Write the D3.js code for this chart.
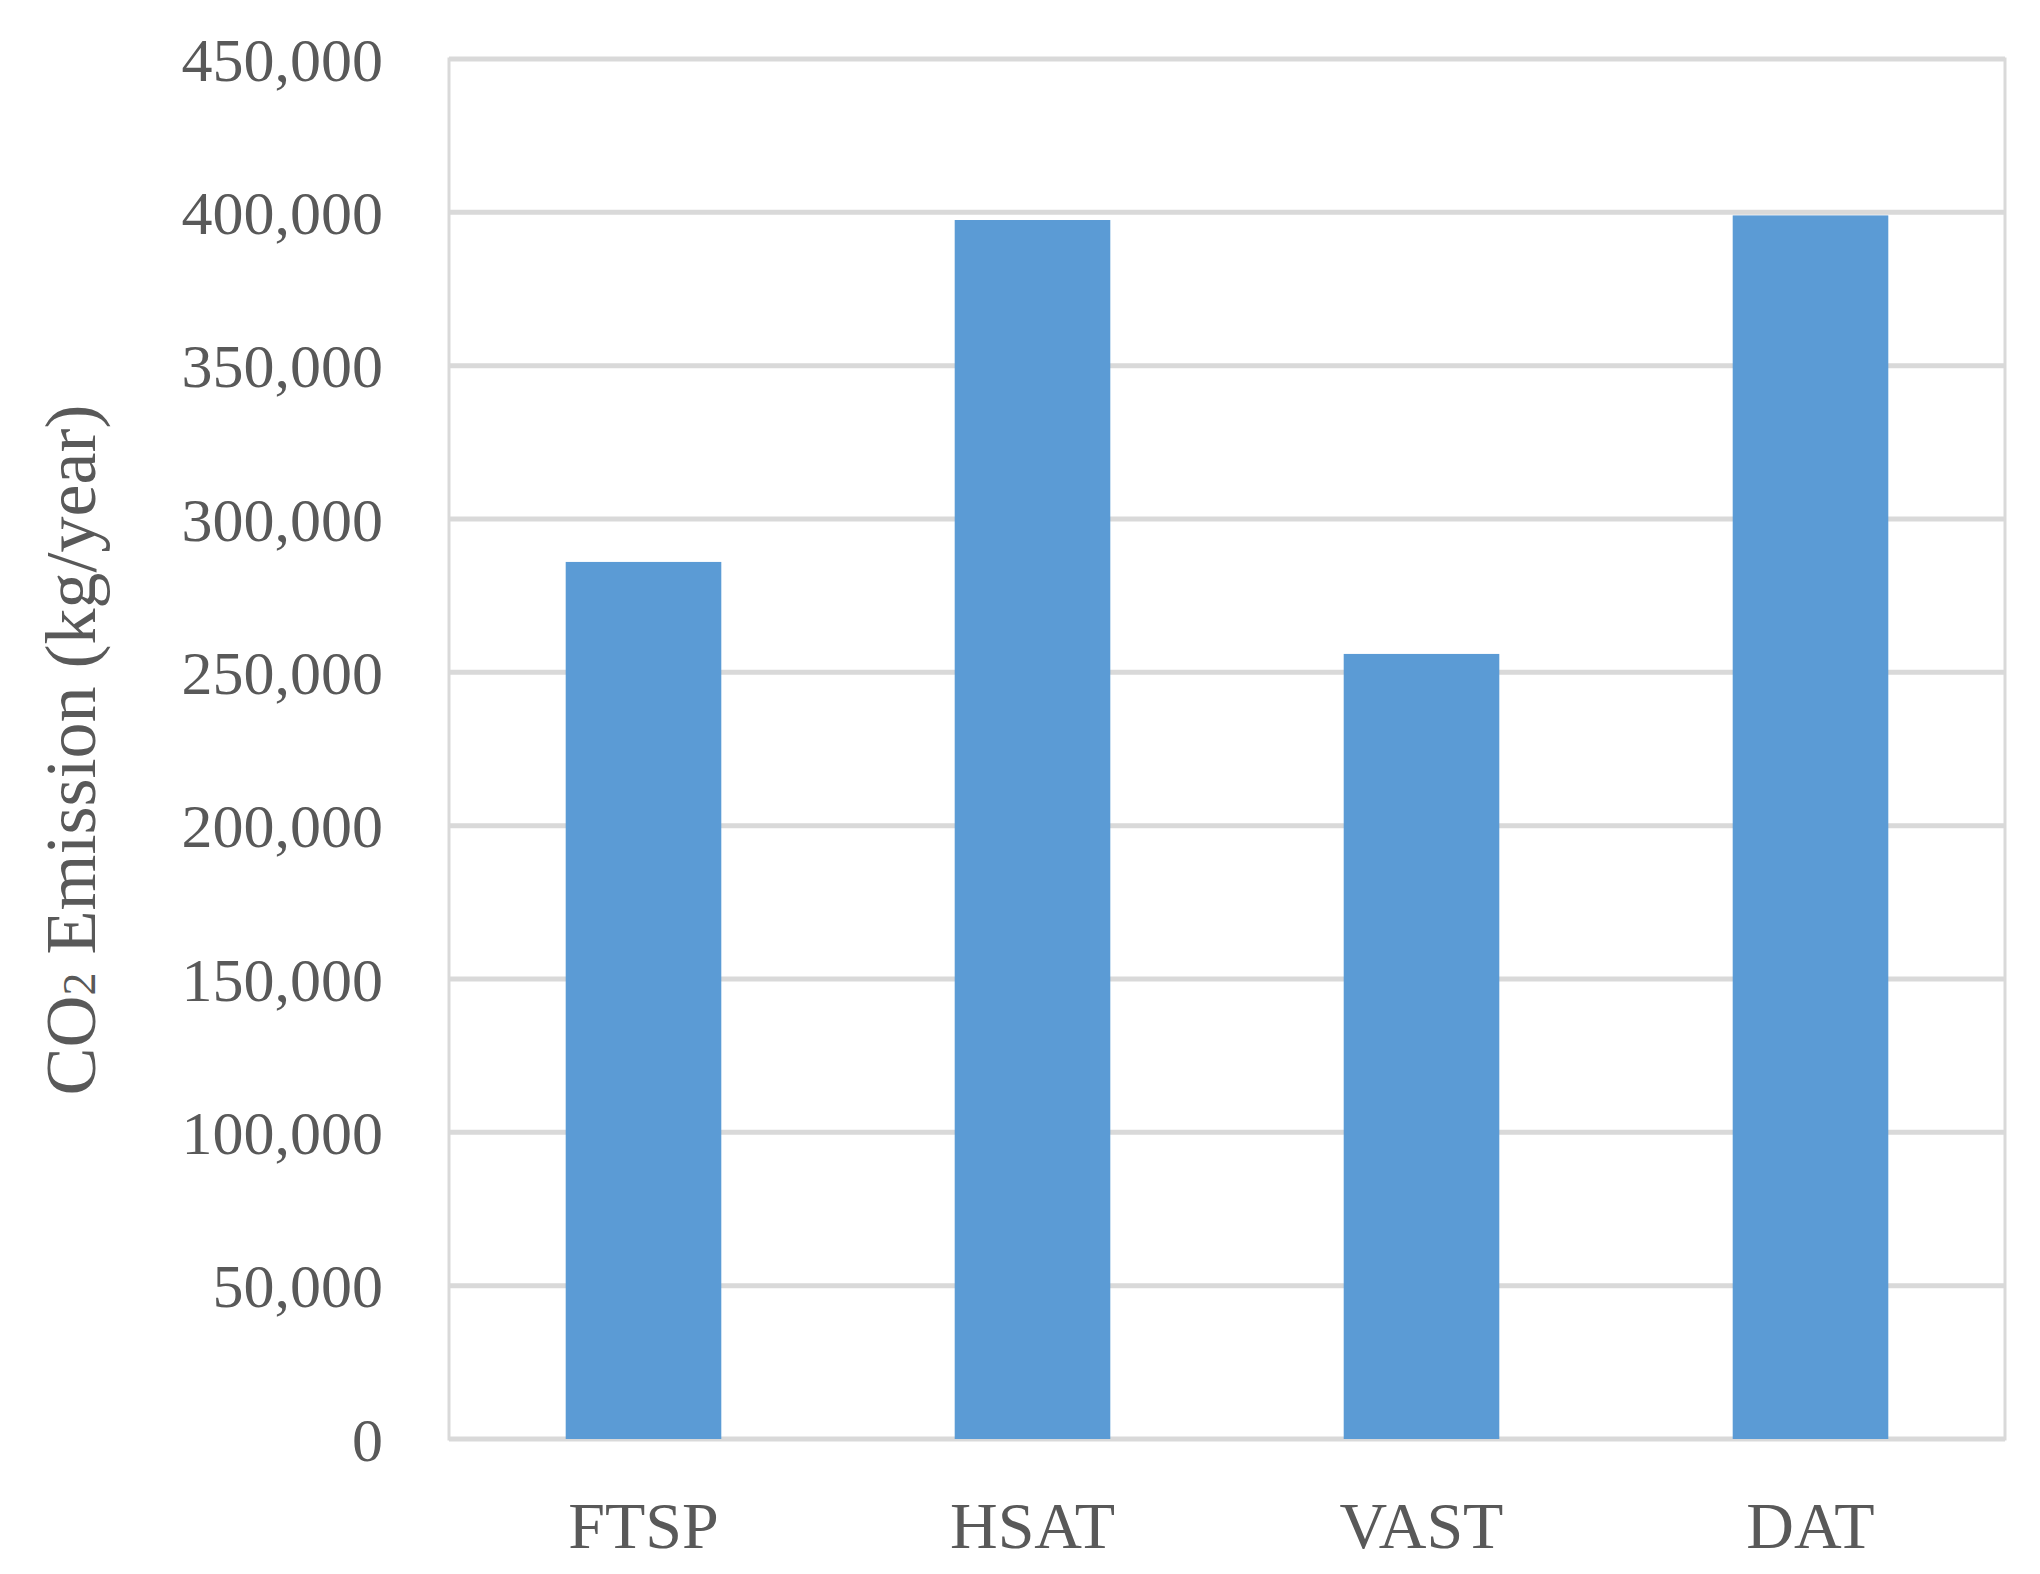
<!DOCTYPE html>
<html><head><meta charset="utf-8">
<script src="https://cdn.jsdelivr.net/npm/d3@7"></script>
<style>body{margin:0;background:#fff}</style>
</head><body>
<script>
const categories = ['FTSP', 'HSAT', 'VAST', 'DAT'];
const values = [286000, 397500, 256000, 399000];
const yTicks = [0, 50000, 100000, 150000, 200000, 250000, 300000, 350000, 400000, 450000];

const W = 2040, H = 1574;
const m = {left: 449, right: 35, top: 59, bottom: 135};
const svg = d3.select('body').append('svg').attr('width', W).attr('height', H);
const x = d3.scaleBand().domain(categories).range([m.left, W - m.right]).paddingInner(0.6).paddingOuter(0.3);
const y = d3.scaleLinear().domain([0, 450000]).range([H - m.bottom, m.top]);
const font = 'Liberation Serif, Times New Roman, serif';

svg.append('rect').attr('x', m.left).attr('y', m.top)
  .attr('width', W - m.right - m.left).attr('height', H - m.bottom - m.top)
  .attr('fill', 'none').attr('stroke', '#d9d9d9').attr('stroke-width', 3);

svg.selectAll('.grid').data(yTicks).enter().append('line')
  .attr('x1', m.left).attr('x2', W - m.right)
  .attr('y1', d => y(d)).attr('y2', d => y(d))
  .attr('stroke', '#d9d9d9').attr('stroke-width', 5);

svg.selectAll('.bar').data(values).enter().append('rect')
  .attr('x', (d, i) => x(categories[i])).attr('width', x.bandwidth())
  .attr('y', d => y(d)).attr('height', d => y(0) - y(d))
  .attr('fill', '#5b9bd5');

svg.selectAll('.yt').data(yTicks).enter().append('text')
  .attr('x', 383).attr('y', d => y(d)).attr('dy', '0.35em')
  .attr('text-anchor', 'end').attr('font-family', font).attr('font-size', 62)
  .attr('fill', '#595959').text(d => d3.format(',')(d));

svg.selectAll('.xt').data(categories).enter().append('text')
  .attr('x', d => x(d) + x.bandwidth() / 2).attr('y', 1548)
  .attr('text-anchor', 'middle').attr('font-family', font).attr('font-size', 66)
  .attr('fill', '#595959').text(d => d);

const t = svg.append('text').attr('transform', 'translate(95,750) rotate(-90)')
  .attr('text-anchor', 'middle').attr('font-family', font).attr('font-size', 72).attr('fill', '#595959');
t.append('tspan').text('CO');
t.append('tspan').attr('font-size', 46).text('2');
t.append('tspan').text(' Emission (kg/year)');
</script>
</body></html>
